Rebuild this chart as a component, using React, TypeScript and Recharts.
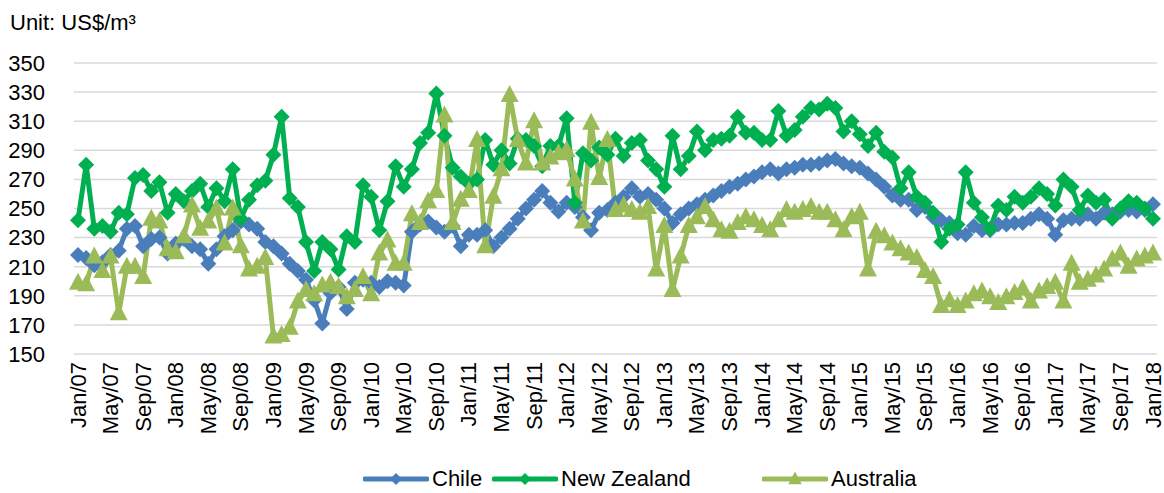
import { CartesianGrid, Legend, Line, LineChart, XAxis, YAxis } from "recharts";

const FONT = '"Liberation Sans", Arial, sans-serif';

const monthNames = ["Jan", "Feb", "Mar", "Apr", "May", "Jun", "Jul", "Aug", "Sep", "Oct", "Nov", "Dec"];
const years = ["07", "08", "09", "10", "11", "12", "13", "14", "15", "16", "17", "18"];
const categories = years.flatMap((y) => monthNames.map((m) => `${m}/${y}`)).slice(0, 133);

const yTicks = [150, 170, 190, 210, 230, 250, 270, 290, 310, 330, 350];

// US$/m3, Jan/07 .. Jan/18
const chile = [
  218, 216, 211, 213, 218, 221, 236, 238, 224, 229, 230, 219,
  226, 229, 224, 222, 212, 222, 231, 235, 241, 239, 236, 227,
  224, 219, 212, 207, 201, 187, 171, 192, 196, 181, 199, 201,
  199, 196, 200, 199, 197, 234, 239, 241, 237, 234, 238, 224,
  232, 232, 235, 224, 230, 236, 243, 250, 256, 262, 254, 248,
  254, 251, 244, 235, 247, 249, 254, 258, 264, 258, 260, 256,
  250, 240, 246, 250, 253, 256, 259, 262, 265, 267, 270, 272,
  275, 277, 274, 277, 278, 280, 280, 281, 283, 284, 281, 279,
  278, 274, 270, 265, 259, 256, 256, 249, 251, 244, 242, 240,
  233, 232, 238, 235, 235, 239, 239, 240, 240, 243, 246, 243,
  232, 242, 243, 243, 246, 243, 247, 246, 248, 249, 248, 249,
  253,
];

const newZealand = [
  242, 280, 236, 238, 234, 247, 246, 271, 273, 262, 268, 247,
  260, 255, 262, 267, 251, 264, 255, 277, 243, 256, 266, 269,
  287, 313, 257, 251, 227, 207, 227, 222, 208, 231, 227, 266,
  258, 235, 255, 279, 265, 277, 295, 302, 329, 300, 278, 272,
  267, 270, 297, 280, 290, 281, 298, 297, 293, 279, 293, 293,
  312, 254, 288, 283, 292, 287, 298, 286, 295, 297, 283, 277,
  265, 300, 277, 286, 303, 290, 297, 298, 300, 313, 302, 302,
  297, 297, 317, 300, 304, 313, 319, 318, 322, 319, 303, 310,
  301, 293, 302, 289, 285, 264, 275, 258, 254, 247, 227, 236,
  239, 275, 254, 244, 236, 252, 249, 258, 254, 258, 264, 260,
  252, 270, 265, 249, 259, 254, 256, 243, 250, 255, 254, 250,
  243,
];

const australia = [
  199, 198, 217, 207, 217, 178, 210, 210, 203, 243, 241, 222,
  220, 231, 252, 236, 241, 250, 226, 250, 224, 208, 210, 216,
  162, 163, 168, 186, 194, 191, 197, 199, 196, 189, 194, 203,
  191, 219, 228, 212, 212, 246, 240, 255, 262, 314, 240, 256,
  262, 297, 224, 258, 277, 328, 297, 281, 310, 281, 285, 288,
  290, 270, 241, 309, 271, 297, 249, 252, 249, 247, 251, 208,
  238, 194, 217, 238, 244, 251, 242, 235, 234, 240, 244, 242,
  238, 235, 242, 249, 247, 249, 251, 247, 247, 242, 235, 244,
  247, 208, 234, 231, 226, 222, 219, 216, 207, 203, 183, 187,
  183, 186, 191, 193, 189, 185, 189, 192, 195, 186, 193, 196,
  199, 186, 212, 199, 201, 204, 208, 215, 219, 210, 215, 217,
  219,
];

const data = categories.map((name, i) => ({
  name,
  chile: chile[i],
  nz: newZealand[i],
  australia: australia[i],
}));

const BLUE = "#4A7EBB";
const GREEN = "#00B050";
const OLIVE = "#9BBB59";

const diamond = (cx: number, cy: number, r: number) =>
  `${cx},${cy - r} ${cx + r},${cy} ${cx},${cy + r} ${cx - r},${cy}`;
const triangle = (cx: number, cy: number, s = 1) =>
  `${cx},${cy - 10 * s} ${cx + 9 * s},${cy + 7 * s} ${cx - 9 * s},${cy + 7 * s}`;

const makeDiamondDot = (color: string) => (props: any) => {
  const { cx, cy, index } = props;
  if (cx == null || cy == null) return <g key={`d-${index}`} />;
  return <polygon key={`d-${index}`} points={diamond(cx, cy, 8)} fill={color} />;
};

const triangleDot = (props: any) => {
  const { cx, cy, index } = props;
  if (cx == null || cy == null) return <g key={`t-${index}`} />;
  return <polygon key={`t-${index}`} points={triangle(cx, cy)} fill={OLIVE} />;
};

const MonthTick = (props: any) => {
  const { x, y, payload } = props;
  return (
    <text
      x={x}
      y={y}
      transform={`rotate(-90, ${x}, ${y})`}
      textAnchor="end"
      dominantBaseline="central"
      fontSize={22}
      fontFamily={FONT}
      fill="#000"
    >
      {payload.value}
    </text>
  );
};

const legendItems = [
  { label: "Chile", color: BLUE, shape: "diamond", left: 363 },
  { label: "New Zealand", color: GREEN, shape: "diamond", left: 492 },
  { label: "Australia", color: OLIVE, shape: "triangle", left: 762 },
];

const ChartLegend = () => (
  <div style={{ position: "relative", width: 1164, height: 26 }}>
    {legendItems.map((item) => (
      <div
        key={item.label}
        style={{
          position: "absolute",
          left: item.left,
          top: 0,
          height: 26,
          display: "flex",
          alignItems: "center",
          fontFamily: FONT,
          fontSize: 22,
          lineHeight: "24px",
          color: "#000",
        }}
      >
        <svg width={66} height={26} style={{ display: "block" }}>
          <line x1={2} y1={13} x2={64} y2={13} stroke={item.color} strokeWidth={5} strokeLinecap="round" />
          <polygon
            points={item.shape === "diamond" ? diamond(33, 13, 6) : triangle(33, 13, 0.75)}
            fill={item.color}
          />
        </svg>
        <span style={{ marginLeft: 3, whiteSpace: "nowrap" }}>{item.label}</span>
      </div>
    ))}
  </div>
);

const App = () => {
  return (
    <div style={{ position: "absolute", left: 0, top: 0, width: 1164, height: 493, background: "#fff" }}>
      <div
        style={{
          position: "absolute",
          left: 10,
          top: 12,
          fontFamily: FONT,
          fontSize: 22,
          lineHeight: "22px",
          color: "#000",
          whiteSpace: "nowrap",
        }}
      >
        Unit: US$/m³
      </div>
      <LineChart
        width={1164}
        height={493}
        data={data}
        margin={{ top: 63, right: 7, left: 0, bottom: 39 }}
      >
        <CartesianGrid vertical={false} stroke="#D9D9D9" strokeWidth={1.5} />
        <XAxis
          dataKey="name"
          interval={3}
          height={100}
          axisLine={false}
          tickLine={false}
          tickSize={0}
          tickMargin={8}
          padding={{ left: 4, right: 4 }}
          tick={<MonthTick />}
        />
        <YAxis
          domain={[150, 350]}
          ticks={yTicks}
          interval={0}
          width={74}
          axisLine={false}
          tickLine={false}
          tickSize={0}
          tickMargin={29}
          tick={{ fontSize: 22, fill: "#000", fontFamily: FONT }}
        />
        <Legend
          layout="horizontal"
          verticalAlign="middle"
          align="center"
          wrapperStyle={{ top: 466, left: 0, width: 1164, height: 26 }}
          content={<ChartLegend />}
        />
        <Line
          dataKey="chile"
          name="Chile"
          stroke={BLUE}
          strokeWidth={5}
          strokeLinejoin="round"
          dot={makeDiamondDot(BLUE)}
          activeDot={false}
          isAnimationActive={false}
        />
        <Line
          dataKey="nz"
          name="New Zealand"
          stroke={GREEN}
          strokeWidth={5}
          strokeLinejoin="round"
          dot={makeDiamondDot(GREEN)}
          activeDot={false}
          isAnimationActive={false}
        />
        <Line
          dataKey="australia"
          name="Australia"
          stroke={OLIVE}
          strokeWidth={5}
          strokeLinejoin="round"
          dot={triangleDot}
          activeDot={false}
          isAnimationActive={false}
        />
      </LineChart>
    </div>
  );
};

export default App;
